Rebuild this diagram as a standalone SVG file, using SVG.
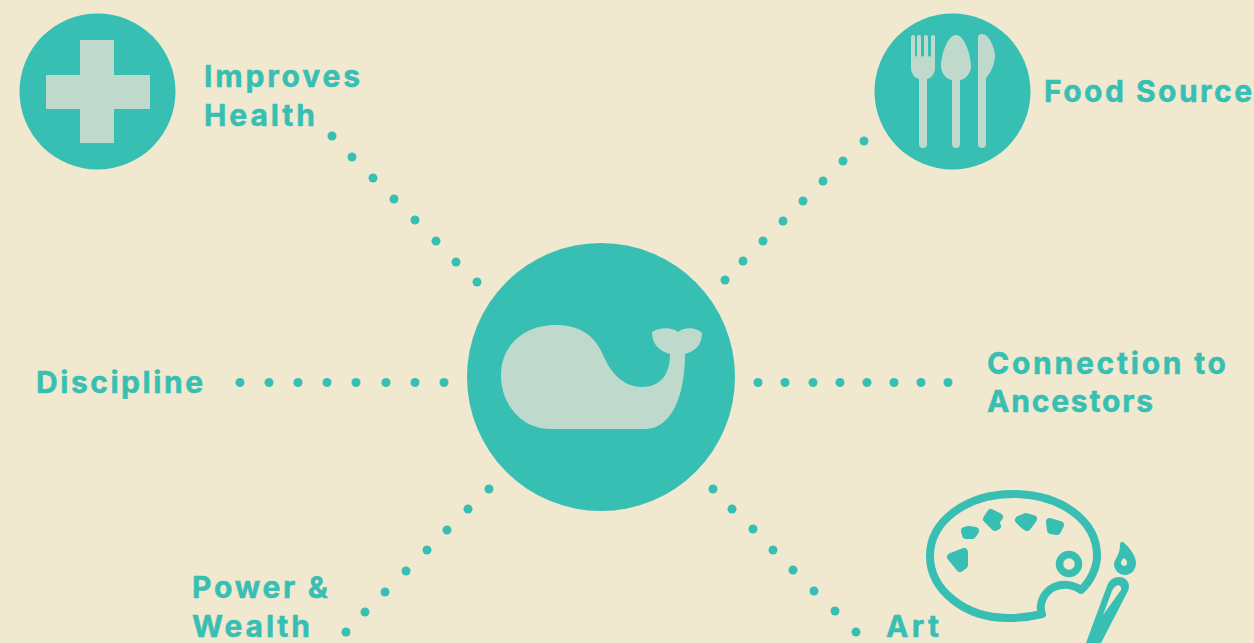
<svg xmlns="http://www.w3.org/2000/svg" width="1254" height="643" viewBox="0 0 1254 643">
<style>
.t{fill:#38bfb3}
.p{fill:#bfdacc}
.l{font-family:"Inter","Lato","Liberation Sans",sans-serif;font-weight:700;font-size:30px;fill:#38bfb3;stroke:#38bfb3;stroke-width:.5px}
.s{fill:none;stroke:#38bfb3;stroke-width:8;stroke-linecap:round;stroke-linejoin:round}
.b{fill:#38bfb3;stroke:#38bfb3;stroke-width:8;stroke-linejoin:round}
#connectors circle{fill:#38bfb3}
</style>
<rect width="1254" height="643" fill="#f1e8d0"/>
<g id="connectors">
<circle cx="332" cy="136" r="4.500"/><circle cx="352" cy="157" r="4.500"/><circle cx="373" cy="178" r="4.500"/><circle cx="394" cy="199" r="4.500"/><circle cx="415" cy="220" r="4.500"/><circle cx="436" cy="241" r="4.500"/><circle cx="456" cy="262" r="4.500"/><circle cx="477" cy="282" r="4.500"/>
<circle cx="864" cy="141" r="4.500"/><circle cx="843" cy="161" r="4.500"/><circle cx="823" cy="181" r="4.500"/><circle cx="803" cy="201" r="4.500"/><circle cx="783" cy="221" r="4.500"/><circle cx="763" cy="241" r="4.500"/><circle cx="743" cy="261" r="4.500"/><circle cx="725" cy="280" r="4.500"/>
<circle cx="240" cy="382.500" r="4.500"/><circle cx="269" cy="382.500" r="4.500"/><circle cx="298" cy="382.500" r="4.500"/><circle cx="327" cy="382.500" r="4.500"/><circle cx="356" cy="382.500" r="4.500"/><circle cx="386" cy="382.500" r="4.500"/><circle cx="415" cy="382.500" r="4.500"/><circle cx="444" cy="382.500" r="4.500"/>
<circle cx="758" cy="382.500" r="4.500"/><circle cx="785" cy="382.500" r="4.500"/><circle cx="813" cy="382.500" r="4.500"/><circle cx="840" cy="382.500" r="4.500"/><circle cx="867" cy="382.500" r="4.500"/><circle cx="894" cy="382.500" r="4.500"/><circle cx="921" cy="382.500" r="4.500"/><circle cx="948" cy="382.500" r="4.500"/>
<circle cx="489" cy="489" r="4.500"/><circle cx="468" cy="509" r="4.500"/><circle cx="447" cy="530" r="4.500"/><circle cx="427" cy="550" r="4.500"/><circle cx="406" cy="571" r="4.500"/><circle cx="385" cy="592" r="4.500"/><circle cx="365" cy="612" r="4.500"/><circle cx="346" cy="632" r="4.500"/>
<circle cx="713" cy="489" r="4.500"/><circle cx="732" cy="509" r="4.500"/><circle cx="753" cy="529" r="4.500"/><circle cx="773" cy="550" r="4.500"/><circle cx="793" cy="570" r="4.500"/><circle cx="814" cy="591" r="4.500"/><circle cx="835" cy="611" r="4.500"/><circle cx="856" cy="632" r="4.500"/>
</g>
<g id="whale">
<circle class="t" cx="601" cy="377" r="134"/>
<path class="p" d="M501 375C501 345 525 325 555 325C580 325 595 335 604 357C612 375 625 387 642 387C660 387 670 375 670 354C660 351 652 345 652 332C660 327 672 327 678 332C684 327 696 327 702 333C702 345 695 351 685 354C685 395 672 429 645 429L550 429C522 429 501 405 501 375Z"/>
</g>
<g id="health">
<circle class="t" cx="97.500" cy="91.500" r="78"/>
<path class="p" d="M80 40H114V75H150V109H114V143H80V109H46V75H80Z"/>
<text class="l" x="204" y="87" textLength="156" lengthAdjust="spacing">Improves</text>
<text class="l" x="204" y="126" textLength="111" lengthAdjust="spacing">Health</text>
</g>
<g id="food">
<circle class="t" cx="952.500" cy="91.500" r="78"/>
<path class="p" d="M911 37a2 2 0 0 1 4 0V55C915 57 917 57 917 55V37a2 2 0 0 1 4 0V55C921 57 924 57 924 55V37a2 2 0 0 1 4 0V55C928 57 931 57 931 55V37a2 2 0 0 1 4 0V68C935 74 931 78 927 79V144a4 4 0 0 1 -8 0V79C915 78 911 74 911 68Z"/>
<path class="p" d="M956 35C965 35 971 56 971 66C971 73 966 79 960 80V144a4 4 0 0 1 -8 0V80C946 79 941 73 941 66C941 56 947 35 956 35Z"/>
<path class="p" d="M978 38a4 4 0 0 1 4 -4C989 34 995 48 995 56C995 64 990 74 986 78V144a4 4 0 0 1 -8 0Z"/>
<text class="l" x="1044" y="102" textLength="208" lengthAdjust="spacing">Food Source</text>
</g>
<g id="discipline"><text class="l" x="36" y="393" textLength="167" lengthAdjust="spacing">Discipline</text></g>
<g id="ancestors">
<text class="l" x="987" y="374" textLength="239" lengthAdjust="spacing">Connection to</text>
<text class="l" x="987" y="412" textLength="166" lengthAdjust="spacing">Ancestors</text>
</g>
<g id="power">
<text class="l" x="192" y="598" textLength="136" lengthAdjust="spacing">Power &amp;</text>
<text class="l" x="192" y="637" textLength="118" lengthAdjust="spacing">Wealth</text>
</g>
<g id="art">
<text class="l" x="886" y="637" textLength="53" lengthAdjust="spacing">Art</text>
<path class="s" d="M1042 614C1030 617 1018 618 1008 618C965 618 930 590 930 556C930 520 968 494 1013 494C1060 494 1097 520 1097 556C1097 567 1091 581 1081 590C1074 585 1064 583 1054 587C1044 592 1038 604 1042 614"/>
<path class="b" d="M951 557L964 552L964 565L960 568Z"/>
<path class="b" d="M965 531L969 530L975 531L972 535L966 535Z"/>
<path class="b" d="M991 513L999 517L995 522L997 526L995 527L987 519Z"/>
<path class="b" d="M1019 520L1026 517L1033 519L1027 527L1023 524Z"/>
<path class="b" d="M1050 522L1060 525L1057 531L1051 530Z"/>
<circle cx="1069" cy="564" r="9.500" fill="none" stroke="#38bfb3" stroke-width="7.500"/>
<path class="t" fill-rule="evenodd" d="M1123 542C1128 546 1136 555 1136 563C1136 570 1131 575 1125 575C1119 575 1114 570 1114 564C1114 559 1120 556 1120 545C1120 543 1121 541 1123 542ZM1124 558C1121 561 1120 563 1122 565C1124 567 1127 566 1127 563C1127 561 1126 559 1124 558Z"/>
<path class="t" fill-rule="evenodd" d="M1086 643L1107 586C1109 580 1114 577 1119 577C1127 577 1131 584 1128 591L1101 643ZM1103 615L1121 590C1122 587 1119 584 1116 586C1114 587 1113 589 1112 591Z"/>
</g>
</svg>
